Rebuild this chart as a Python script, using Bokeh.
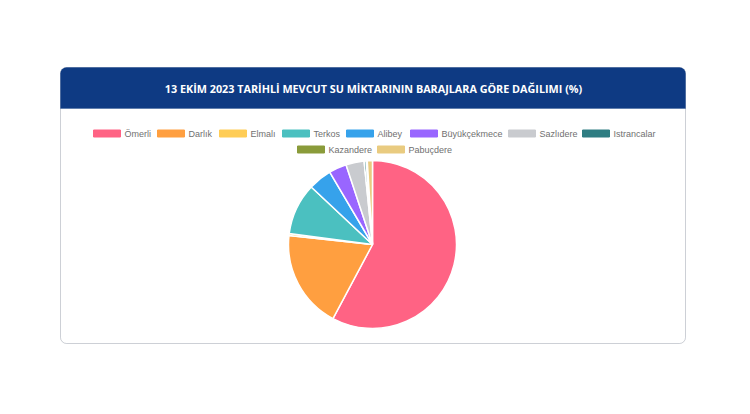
from bokeh.plotting import figure
from bokeh.models import Range1d, BoxAnnotation, ColumnDataSource
from bokeh.embed import file_html
from bokeh.resources import INLINE
from bokeh.core.properties import value
import numpy as np

# ---------------- data ----------------
title = "13 EKİM 2023 TARİHLİ MEVCUT SU MİKTARININ BARAJLARA GÖRE DAĞILIMI (%)"
dams = ["Ömerli", "Darlık", "Elmalı", "Terkos", "Alibey", "Büyükçekmece",
        "Sazlıdere", "Istrancalar", "Kazandere", "Pabuçdere"]
shares = [57.8, 18.9, 0.4, 9.9, 4.5, 3.4, 3.5, 0.4, 0.2, 1.0]
colors = ["#ff6384", "#ff9f40", "#ffcd56", "#4bc0c0", "#36a2eb", "#9966ff",
          "#c9cbcf", "#2e7d82", "#8a9b3a", "#e9cb80"]

# ---------------- layout (screen pixels) ----------------
W, H = 734, 398
def px(x):
    return x
def py(y):
    return H - y

leg_x = [93, 157, 219, 282, 346, 410, 508, 582, 297, 377]
leg_y = [133] * 8 + [149] * 2
pie_cx, pie_cy, pie_r = 372, 244, 84

p = figure(width=W, height=H, x_range=Range1d(0, W), y_range=Range1d(0, H),
           x_axis_type=None, y_axis_type=None, toolbar_location=None,
           output_backend="svg", min_border=0, outline_line_color=None,
           background_fill_color="white", border_fill_color="white")
p.grid.visible = False

card = BoxAnnotation(left=px(60), right=px(685), top=py(67), bottom=py(343),
                     fill_color="white", fill_alpha=1, line_color="#5b6478",
                     line_width=1, border_radius=6, level="underlay")
header = BoxAnnotation(left=px(60), right=px(685), top=py(67), bottom=py(108),
                       fill_color="#0e3a83", fill_alpha=1, line_color="#0e3a83",
                       line_width=1, border_radius=(6, 6, 0, 0), level="underlay")
p.add_layout(card)
p.add_layout(header)

p.text(x=[px(373)], y=[py(87.5)], text=[title], text_align="center",
       text_baseline="middle", text_color="white",
       text_font=value("Open Sans"), text_font_style="bold",
       text_font_size="10.8px")

# legend
lx = np.array([px(v) for v in leg_x], dtype=float)
ly = np.array([py(v) for v in leg_y], dtype=float)
leg = ColumnDataSource(dict(left=lx, right=lx + 27, top=ly + 3.5, bottom=ly - 3.5,
                            tx=lx + 31, ty=ly, name=dams, color=colors))
p.quad(left="left", right="right", top="top", bottom="bottom", source=leg,
       fill_color="color", line_color="color", line_width=1)
p.text(x="tx", y="ty", text="name", source=leg, text_align="left",
       text_baseline="middle", text_color="#707070",
       text_font=value("Liberation Sans"), text_font_size="9px")

# pie
frac = np.array(shares, dtype=float) / np.sum(shares)
cum = np.cumsum(frac)
prev = cum - frac
start = np.pi / 2 - 2 * np.pi * prev
end = np.pi / 2 - 2 * np.pi * cum
pie = ColumnDataSource(dict(start=start, end=end, color=colors, name=dams,
                            share=shares))
p.wedge(x=px(pie_cx), y=py(pie_cy), radius=pie_r, start_angle="start",
        end_angle="end", direction="clock", source=pie, fill_color="color",
        line_color="white", line_width=1.5)

open("out.html", "w").write(file_html(p, INLINE))
